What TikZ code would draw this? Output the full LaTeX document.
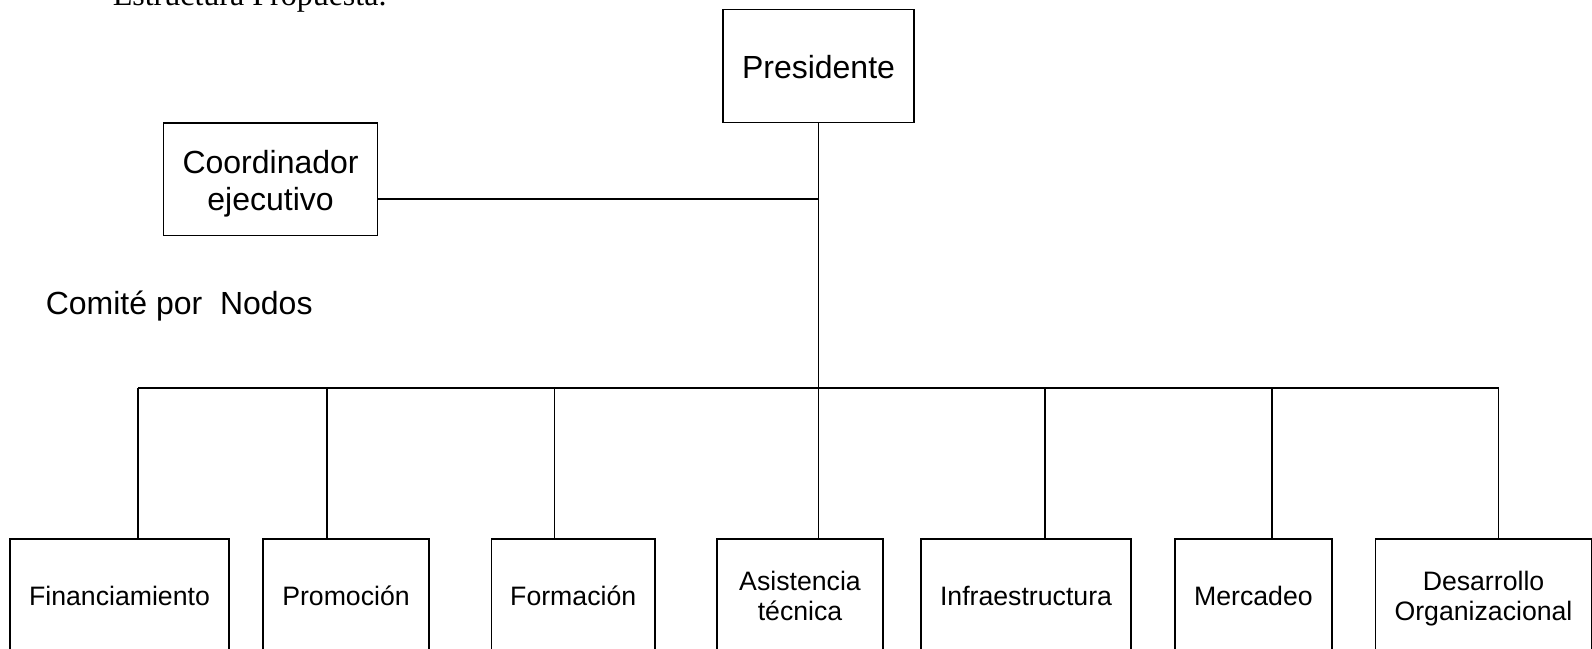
\documentclass[tikz,border=0pt]{standalone}
\usepackage{fontspec}
\setmainfont{Liberation Serif}
\setsansfont{Liberation Sans}
\newcommand\boxstrut{\rule{0pt}{26.9pt}}
\newcommand\unitstrut{\rule{0pt}{20.25pt}}
\begin{document}
\begin{tikzpicture}[x=0.75pt,y=-0.75pt,line width=1.2pt,
 box/.style={draw,inner sep=0pt,align=center,font=\sffamily\fontsize{24}{27.75}\selectfont},
 unit/.style={draw,inner sep=0pt,align=center,minimum height=85.5pt,font=\sffamily\fontsize{20}{22.5}\selectfont},
 lbl/.style={inner sep=0pt,anchor=base west}]
\useasboundingbox (0,0) rectangle (1592,649);
\clip (0,0) rectangle (1592,649);
\node[lbl,font=\rmfamily\fontsize{24}{28}\selectfont] (title) at (112,6) {Estructura Propuesta.};
\node[lbl,font=\sffamily\fontsize{24}{28}\selectfont] (comite) at (45,314) {Comité por\ \ Nodos};
\node[box,minimum width=143.25pt,minimum height=85pt] (pres) at (818.5,66) {\boxstrut Presidente\strut};
\node[box,minimum width=160.5pt,minimum height=84.5pt] (coord) at (270.6,179.2) {\boxstrut Coordinador\\ejecutivo\strut};
\node[unit,minimum width=164.25pt] (fin) at (119.5,596) {\unitstrut Financiamiento\strut};
\node[unit,minimum width=124.5pt] (pro) at (346,596) {\unitstrut Promoción\strut};
\node[unit,minimum width=122.6pt] (for) at (573.2,596) {\unitstrut Formación\strut};
\node[unit,minimum width=124.9pt] (asi) at (800,596) {\unitstrut Asistencia\\técnica\strut};
\node[unit,minimum width=157.5pt] (inf) at (1026,596) {\unitstrut Infraestructura\strut};
\node[unit,minimum width=117.5pt] (mer) at (1253.4,596) {\unitstrut Mercadeo\strut};
\node[unit,minimum width=162.3pt] (des) at (1483.5,596) {\unitstrut Desarrollo\\Organizacional\strut};
\coordinate (cj) at (818.5,199);
\coordinate (dfin) at (138,388);
\coordinate (dpro) at (327,388);
\coordinate (dfor) at (554.4,388);
\coordinate (dinf) at (1044.7,388);
\coordinate (dmer) at (1272.2,388);
\coordinate (ddes) at (1498.6,388);
\draw (pres.south) -- (pres.south |- asi.north);
\draw (cj -| coord.east) -- (cj);
\draw (dfin) -- (ddes);
\draw (dfin) -- (dfin |- fin.north);
\draw (dpro) -- (dpro |- pro.north);
\draw (dfor) -- (dfor |- for.north);
\draw (dinf) -- (dinf |- inf.north);
\draw (dmer) -- (dmer |- mer.north);
\draw (ddes) -- (ddes |- des.north);
\end{tikzpicture}
\end{document}
